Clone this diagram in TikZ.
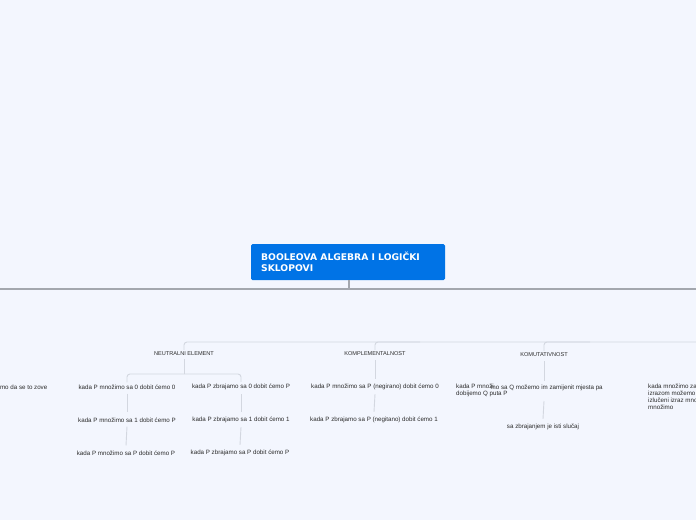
\documentclass[tikz,border=0pt]{standalone}
\usepackage{fontspec}
\setmainfont{Liberation Sans}
\newfontfamily\titlefont{DejaVu Sans}
\definecolor{bg}{HTML}{F3F6FE}
\definecolor{rootblue}{HTML}{0073E6}
\definecolor{mainline}{HTML}{A3A7AE}
\definecolor{subline}{HTML}{D3D7E0}
\definecolor{txt}{HTML}{2B2B2B}
\begin{document}
\begin{tikzpicture}[x=1pt,y=-1pt,
  leaf/.style={inner sep=0pt,font=\fontsize{6.2}{7}\selectfont,text=txt},
  topic/.style={inner sep=0pt,font=\fontsize{5.6}{6.6}\selectfont,text=txt},
  trunk/.style={draw=mainline,line width=1.3pt},
  branch/.style={draw=subline,line width=0.9pt,rounded corners=3pt}]
\fill[bg] (0,0) rectangle (696,520);
\useasboundingbox (0,0) rectangle (696,520);
% root
\node[fill=rootblue,rounded corners=1.5pt,minimum width=194pt,minimum height=36pt,inner sep=0pt] (root) at (348,262) {};
\node[anchor=north west,inner sep=0pt,align=left,text=white,font=\titlefont\fontsize{9.2}{11}\bfseries\selectfont] (roottext) at (261,252) {BOOLEOVA ALGEBRA I LOGIČKI\\SKLOPOVI};
\coordinate (hub) at (349,289);
\coordinate (tl) at (0,289);
\coordinate (tr) at (696,289);
\draw[trunk] (tl) -- (tr);
\draw[trunk] (root.south -| hub) -- (hub);
% topics
\node[topic] (ne) at (184,354) {NEUTRALNI ELEMENT};
\node[topic] (ko) at (375,354) {KOMPLEMENTALNOST};
\node[topic] (km) at (544,355) {KOMUTATIVNOST};
\coordinate (bend) at (184,342);
\coordinate (bright) at (696,342);
\draw[branch] (ne.north) ++(0,-2) |- (bright);
\draw[branch] (ko.north) ++(0,-2) |- (420,342);
\draw[branch] (km.north) ++(0,-2) |- (590,342);
% neutral element children
\node[leaf] (n1) at (127,387) {kada P množimo sa 0 dobit ćemo 0};
\node[leaf] (n2) at (127,420) {kada P množimo sa 1 dobit ćemo P};
\node[leaf] (n3) at (126,453) {kada P množimo sa P dobit ćemo P};
\node[leaf] (z1) at (241,387) {kada P zbrajamo sa 0 dobit ćemo P};
\node[leaf] (z2) at (241,420) {kada P zbrajamo sa 1 dobit ćemo 1};
\node[leaf] (z3) at (240,453) {kada P zbrajamo sa P dobit ćemo P};
\coordinate (nefork) at (184,374);
\draw[branch] (ne.south) ++(0,3) -- (nefork);
\draw[branch] (n1.north) ++(0,-2) |- (nefork);
\draw[branch] (z1.north) ++(0,-2) |- (nefork);
\draw[branch] (n1.south) ++(0,4) -- ([yshift=5pt]n2.north);
\draw[branch] (n2.south) ++(0,4) -- ([yshift=5pt]n3.north);
\draw[branch] (z1.south) ++(0,4) -- ([yshift=5pt]z2.north);
\draw[branch] (z2.south) ++(0,4) -- ([yshift=5pt]z3.north);
% komplementalnost children
\node[leaf] (k1) at (375,387) {kada P množimo sa P (negirano) dobit ćemo 0};
\node[leaf] (k2) at (374,420) {kada P zbrajamo sa P (negitano) dobit ćemo 1};
\draw[branch] (ko.south) ++(0,4) -- ([yshift=5pt]k1.north);
\draw[branch] (k1.south) ++(0,4) -- ([yshift=5pt]k2.north);
% komutativnost children
\node[leaf,anchor=north west,align=left] (c1) at (456,384) {kada P množi\\dobijemo Q puta P};
\node[leaf,anchor=west] (c1b) at (490.5,388) {mo sa Q možemo im zamijenit mjesta pa};
\node[leaf] (c2) at (543,427) {sa zbrajanjem je isti slučaj};
\coordinate (c1top) at (544,381);
\coordinate (c1bot) at (544,401);
\draw[branch] (km.south) ++(0,4) -- (c1top);
\draw[branch] (c1bot) -- ([yshift=5pt]c2.north);
% cut-off texts
\node[leaf,anchor=east] (lcut) at (47.5,387) {mo da se to zove};
\node[leaf,anchor=north west,align=left] (rcut) at (648,384) {kada množimo za\\izrazom možemo\\izlučeni izraz mno\\množimo};
\end{tikzpicture}
\end{document}
